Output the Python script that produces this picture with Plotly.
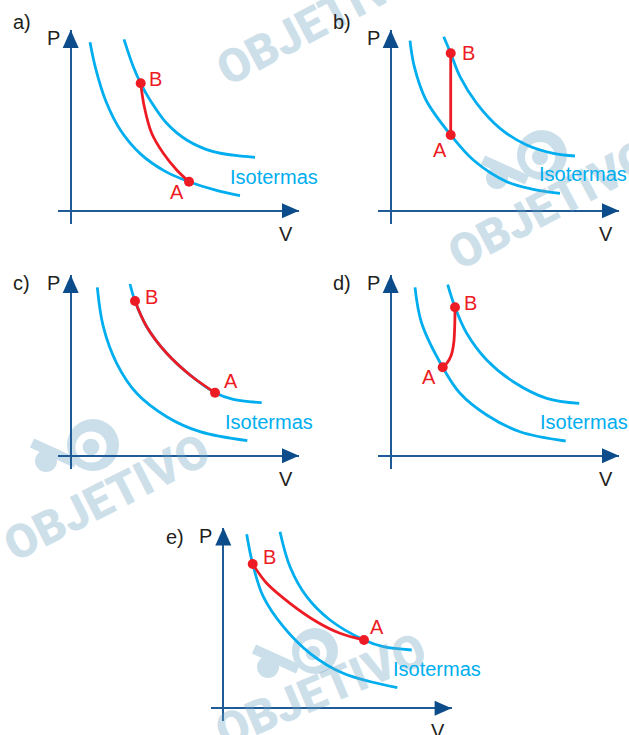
import plotly.graph_objects as go

W, H = 629, 735
CYAN = "#00aeef"
RED = "#ed1c24"
AXIS = "#1f5b97"
ARROW = "#0d4c8a"
INK = "#231f20"
FONT = "Liberation Sans, Arial, sans-serif"

# ---- P-V data (schematic units, one unit = one pixel from the axes origin) ----
# a) B -> A steeper than the isotherms
a_low_V = [19.3, 25, 35, 50, 70, 95, 118.3, 145, 169.3]
a_low_P = [168.5, 142.1, 110, 80.2, 56.6, 39.1, 29, 20.5, 15]
a_high_V = [53.3, 62.6, 70, 79.3, 96, 116, 142.6, 184.3]
a_high_P = [171.4, 144, 127.4, 110.7, 87.4, 70.7, 59, 53.4]
a_path_V = [70, 73.6, 81, 92.6, 106, 118.3]
a_path_P = [127.4, 104, 77.4, 57.4, 40.7, 29]

# b) isochoric A -> B
b_low_V = [19.3, 23.6, 35.3, 60, 82.6, 116, 142.6, 169.3]
b_low_P = [170, 144, 110.7, 75.7, 50.7, 29, 21.4, 17.4]
b_high_V = [53, 60, 69.3, 86, 109.3, 136, 162.6, 184.3]
b_high_P = [174, 157.4, 134, 107.4, 82.4, 65.7, 57.4, 54.7]
b_path_V = [60, 60]
b_path_P = [75.7, 157.4]

# c) B -> A along the hotter isotherm
c_low_V = [26.6, 32.6, 46, 66, 96, 129.3, 176.6]
c_low_P = [168.4, 129, 92.4, 62.4, 39, 24, 15]
c_high_V = [59.3, 64.3, 76, 96, 119.3, 144.3, 162.6, 191]
c_high_P = [171.7, 154.7, 129, 102.4, 80.7, 63, 56.4, 53]
c_path_V = [64.3, 76, 96, 119.3, 144.3]
c_path_P = [154.7, 129, 102.4, 80.7, 63]

# d) A -> B curving up to the hotter isotherm
d_low_V = [24.3, 31, 52, 69.3, 96, 129.3, 175]
d_low_P = [168.4, 132.4, 88.4, 62.4, 40.7, 24, 14.7]
d_high_V = [57, 64.3, 76, 96, 122.6, 156, 188.6]
d_high_P = [171, 148.4, 122.4, 95.7, 74, 57.4, 52.4]
d_path_V = [52, 56.6, 60.6, 63, 64, 64.3]
d_path_P = [88.4, 93, 100.7, 112.4, 129, 148.4]

# e) A (hot) -> B (cold) between the isotherms
e_low_V = [23.4, 29.4, 40, 60, 86.7, 120, 174]
e_low_P = [174, 144.3, 111.6, 81.6, 55, 35, 20.6]
e_high_V = [56.7, 66.7, 83.4, 106.7, 140.7, 160, 188.4]
e_high_P = [176.6, 141.6, 111.6, 88.3, 68.3, 61.6, 58.3]
e_path_V = [29.4, 43.4, 66.7, 93.4, 116.7, 140.7]
e_path_P = [144.3, 125, 105, 86.6, 75, 68.3]

tags = ["a)", "b)", "c)", "d)", "e)"]
point_labels = ["A", "B"]
axis_labels = ["P", "V"]
iso_label = "Isotermas"
watermark = "OBJETIVO"

# ---- layout of the five diagrams (page pixels) ----
panels = [
    dict(tag=tags[0], origin=(70.7, 210.7),
         low=(a_low_V, a_low_P), high=(a_high_V, a_high_P), path=(a_path_V, a_path_P),
         A=(a_path_V[-1], a_path_P[-1]), B=(a_path_V[0], a_path_P[0]),
         tag_xy=(-48.7, 189), lblA=(105.8, 18.7), lblB=(84.3, 131.7), iso=(157.6, 34)),
    dict(tag=tags[1], origin=(390.7, 210.7),
         low=(b_low_V, b_low_P), high=(b_high_V, b_high_P), path=(b_path_V, b_path_P),
         A=(b_path_V[0], b_path_P[0]), B=(b_path_V[-1], b_path_P[-1]),
         tag_xy=(-48.7, 189), lblA=(49.3, 60.7), lblB=(77.6, 157.7), iso=(146, 37)),
    dict(tag=tags[2], origin=(70.7, 455.7),
         low=(c_low_V, c_low_P), high=(c_high_V, c_high_P), path=(c_path_V, c_path_P),
         A=(c_path_V[-1], c_path_P[-1]), B=(c_path_V[0], c_path_P[0]),
         tag_xy=(-49, 172.4), lblA=(160, 75), lblB=(81, 158.7), iso=(152, 33.4)),
    dict(tag=tags[3], origin=(390.7, 455.7),
         low=(d_low_V, d_low_P), high=(d_high_V, d_high_P), path=(d_path_V, d_path_P),
         A=(d_path_V[0], d_path_P[0]), B=(d_path_V[-1], d_path_P[-1]),
         tag_xy=(-49, 172.4), lblA=(38.6, 78.7), lblB=(80, 153), iso=(147.6, 34)),
    dict(tag=tags[4], origin=(223.3, 708.3),
         low=(e_low_V, e_low_P), high=(e_high_V, e_high_P), path=(e_path_V, e_path_P),
         A=(e_path_V[-1], e_path_P[-1]), B=(e_path_V[0], e_path_P[0]),
         tag_xy=(-48.3, 171.6), lblA=(154, 81), lblB=(45.7, 151.3), iso=(167.4, 39)),
]

X_LO, X_HI = -12.7, 228.3   # horizontal axis line extent (arrow tip at X_HI)
Y_LO, Y_HI = -13.0, 180.7   # vertical axis line extent (arrow tip at Y_HI)

fig = go.Figure()
shapes, annotations = [], []

# faint publisher watermark (logo marks sit underneath everything)
WM = "rgb(203,223,234)"
logos = [((542, 155), 25, (497, 178)), ((93, 445), 26, (46, 461)), ((315, 651), 23, (268, 667))]


def circ(x, y, rr, color):
    return dict(type="circle", xref="paper", yref="paper", layer="below",
                x0=(x - rr) / W, x1=(x + rr) / W, y0=1 - (y + rr) / H, y1=1 - (y - rr) / H,
                fillcolor=color, line=dict(width=0))


for (cx, cy), r, (sx, sy) in logos:
    shapes.append(dict(type="line", xref="paper", yref="paper", layer="below",
                       x0=(sx - 14) / W, y0=1 - (sy - 18) / H, x1=(sx + 30) / W, y1=1 - (sy + 2) / H,
                       line=dict(color=WM, width=10)))
    shapes.append(circ(cx, cy, r, WM))
    shapes.append(circ(cx - 2, cy + 2, r * 0.6, "white"))
    shapes.append(circ(cx - 2, cy + 2, r * 0.32, WM))
    shapes.append(circ(sx, sy, 11, WM))

for (wx, wy), ang, size in [((318, 20), -28, 47), ((550, 205), -28, 47),
                            ((106, 497), -27, 47), ((320, 690), -23, 47)]:
    annotations.append(dict(text=watermark, xref="paper", yref="paper",
                            x=wx / W, y=1 - wy / H, xanchor="center", yanchor="middle",
                            showarrow=False, textangle=ang,
                            font=dict(family="Roboto, Lato, sans-serif", weight=900, size=size,
                                      color="rgba(110,165,195,0.34)")))

for i, p in enumerate(panels, start=1):
    sfx = "" if i == 1 else str(i)
    xr, yr = "x" + sfx, "y" + sfx
    ox, oy = p["origin"]
    fig.update_layout({
        "xaxis" + sfx: dict(domain=[(ox + X_LO) / W, (ox + X_HI) / W], range=[X_LO, X_HI],
                            anchor=yr, showgrid=False, showticklabels=False, ticks="",
                            zeroline=True, zerolinecolor=AXIS, zerolinewidth=2,
                            showline=False, fixedrange=True),
        "yaxis" + sfx: dict(domain=[(H - (oy - Y_LO)) / H, (H - (oy - Y_HI)) / H], range=[Y_LO, Y_HI],
                            anchor=xr, showgrid=False, showticklabels=False, ticks="",
                            zeroline=True, zerolinecolor=AXIS, zerolinewidth=2,
                            showline=False, fixedrange=True),
    })
    for V, P in (p["low"], p["high"]):
        fig.add_trace(go.Scatter(x=V, y=P, mode="lines", xaxis=xr, yaxis=yr,
                                 line=dict(color=CYAN, width=2.8, shape="spline"),
                                 hoverinfo="skip", showlegend=False))
    fig.add_trace(go.Scatter(x=p["path"][0], y=p["path"][1], mode="lines", xaxis=xr, yaxis=yr,
                             line=dict(color=RED, width=2.8, shape="spline"),
                             hoverinfo="skip", showlegend=False))
    fig.add_trace(go.Scatter(x=[p["A"][0], p["B"][0]], y=[p["A"][1], p["B"][1]], mode="markers",
                             xaxis=xr, yaxis=yr, cliponaxis=False,
                             marker=dict(color=RED, size=10, line=dict(width=0)),
                             hoverinfo="skip", showlegend=False))
    # arrowheads on both axes
    shapes.append(dict(type="path", xref=xr, yref=yr, layer="above",
                       path=f"M {X_HI},0 L {X_HI - 17},-7.5 L {X_HI - 17},7.5 Z",
                       fillcolor=ARROW, line=dict(width=0)))
    shapes.append(dict(type="path", xref=xr, yref=yr, layer="above",
                       path=f"M 0,{Y_HI} L -8,{Y_HI - 18} L 8,{Y_HI - 18} Z",
                       fillcolor=ARROW, line=dict(width=0)))

    def lab(text, xy, color, anchor="center", size=20):
        # place in page coordinates relative to this diagram's origin
        annotations.append(dict(text=text, x=(ox + xy[0]) / W, y=1 - (oy - xy[1]) / H,
                                xref="paper", yref="paper",
                                xanchor=anchor, yanchor="middle", showarrow=False,
                                font=dict(family=FONT, size=size, color=color)))

    lab(p["tag"], p["tag_xy"], INK)
    lab(axis_labels[0], (-17.7, 172.6), INK)
    lab(axis_labels[1], (214.8, -22.8), INK)
    lab(point_labels[0], p["lblA"], RED)
    lab(point_labels[1], p["lblB"], RED)
    lab(iso_label, p["iso"], CYAN, anchor="left")

fig.update_layout(width=W, height=H, margin=dict(l=0, r=0, t=0, b=0),
                  paper_bgcolor="white", plot_bgcolor="rgba(0,0,0,0)",
                  shapes=shapes, annotations=annotations, showlegend=False,
                  font=dict(family=FONT))
fig.write_html("out.html")
